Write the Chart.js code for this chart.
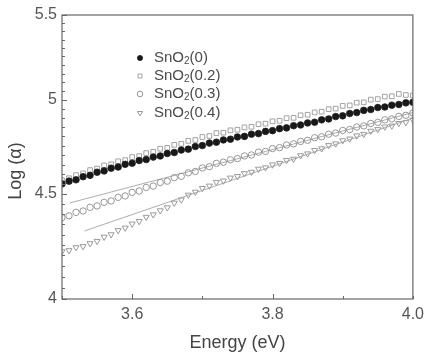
<!DOCTYPE html>
<html><head><meta charset="utf-8">
<script src="https://cdn.jsdelivr.net/npm/chart.js@4/dist/chart.umd.min.js"></script>
<style>html,body{margin:0;padding:0;background:#fff}</style>
</head><body>
<canvas id="c" width="430" height="357"></canvas>
<script>
// ---- data ----
const energy=[3.50,3.51,3.52,3.53,3.54,3.55,3.56,3.57,3.58,3.59,3.60,3.61,3.62,3.63,3.64,3.65,3.66,3.67,3.68,3.69,3.70,3.71,3.72,3.73,3.74,3.75,3.76,3.77,3.78,3.79,3.80,3.81,3.82,3.83,3.84,3.85,3.86,3.87,3.88,3.89,3.90,3.91,3.92,3.93,3.94,3.95,3.96,3.97,3.98,3.99,4.00];
const sno2_0=[4.551,4.565,4.572,4.588,4.595,4.611,4.618,4.632,4.638,4.652,4.658,4.672,4.677,4.690,4.696,4.709,4.714,4.727,4.732,4.746,4.751,4.764,4.769,4.781,4.785,4.797,4.800,4.812,4.815,4.827,4.831,4.842,4.846,4.858,4.862,4.873,4.877,4.890,4.895,4.908,4.912,4.925,4.930,4.942,4.947,4.958,4.961,4.971,4.975,4.984,4.987];
const sno2_02=[4.570,4.580,4.596,4.605,4.622,4.630,4.646,4.652,4.668,4.674,4.690,4.695,4.711,4.718,4.734,4.739,4.755,4.760,4.776,4.781,4.797,4.802,4.818,4.820,4.833,4.836,4.849,4.852,4.866,4.869,4.882,4.885,4.899,4.901,4.915,4.918,4.931,4.935,4.949,4.952,4.967,4.970,4.985,4.987,5.002,5.005,5.019,5.021,5.034,5.028,5.026];
const sno2_03=[4.382,4.391,4.408,4.415,4.433,4.440,4.458,4.465,4.483,4.490,4.508,4.515,4.533,4.540,4.558,4.565,4.583,4.590,4.608,4.615,4.633,4.640,4.657,4.663,4.676,4.682,4.696,4.701,4.716,4.720,4.735,4.740,4.754,4.760,4.773,4.779,4.793,4.798,4.812,4.818,4.832,4.837,4.851,4.857,4.870,4.876,4.890,4.895,4.909,4.915,4.928];
const sno2_04=[4.219,4.224,4.238,4.243,4.257,4.268,4.288,4.300,4.320,4.332,4.352,4.364,4.385,4.397,4.417,4.432,4.455,4.471,4.495,4.510,4.529,4.541,4.560,4.567,4.582,4.590,4.605,4.612,4.628,4.635,4.650,4.658,4.673,4.680,4.698,4.708,4.726,4.735,4.752,4.761,4.778,4.787,4.804,4.812,4.829,4.838,4.852,4.857,4.871,4.876,4.890];
const fitE_03=[3.511,4.00];
const fit_03=[4.455,4.930];
const fitE_04=[3.532,4.00];
const fit_04=[4.317,4.900];
const seriesLabels=['SnO₂(0)','SnO₂(0.2)','SnO₂(0.3)','SnO₂(0.4)'];
const legendSuffix=['(0)','(0.2)','(0.3)','(0.4)'];
const xTickValues=[3.5,3.6,3.7,3.8,3.9,4.0];
const xTickLabels=['','3.6','','3.8','','4.0'];
const xMajor=[3.6,3.8];
const yTickValues=[4,4.05,4.1,4.15,4.2,4.25,4.3,4.35,4.4,4.45,4.5,4.55,4.6,4.65,4.7,4.75,4.8,4.85,4.9,4.95,5,5.05,5.1,5.15,5.2,5.25,5.3,5.35,5.4,5.45,5.5];
const yMajor=[4,4.5,5,5.5];
const xTitle='Energy (eV)';
const yTitle='Log (α)';

const FONT="'Liberation Sans', Arial, Helvetica, sans-serif";
const pts=(xs,ys)=>xs.map((e,i)=>({x:e,y:ys[i]}));

const styles=[
 {pointStyle:'circle',radius:3.3,rotation:0,borderWidth:0.8,fill:'#181818',stroke:'#202020'},
 {pointStyle:'rect',radius:3.3,rotation:0,borderWidth:1,fill:'rgba(255,255,255,0)',stroke:'#a2a2a2'},
 {pointStyle:'circle',radius:3.2,rotation:0,borderWidth:1,fill:'rgba(255,255,255,0)',stroke:'#969696'},
 {pointStyle:'triangle',radius:3.5,rotation:180,borderWidth:1,fill:'rgba(255,255,255,0)',stroke:'#9a9a9a'}
];
const legendRadius=[2.6,2.8,2.8,3];
const seriesData=[sno2_0,sno2_02,sno2_03,sno2_04];
const datasets=seriesData.map((d,i)=>({
  label:seriesLabels[i], data:pts(energy,d),
  pointStyle:styles[i].pointStyle, pointRadius:styles[i].radius, pointRotation:styles[i].rotation,
  pointBorderWidth:styles[i].borderWidth, backgroundColor:styles[i].fill, borderColor:styles[i].stroke,
  showLine:false, order:i===0?0:i+1
}));
datasets.push({label:'fit03',type:'line',data:pts(fitE_03,fit_03),borderColor:'#8a8a8a',borderWidth:0.7,pointRadius:0,fill:false,order:10});
datasets.push({label:'fit04',type:'line',data:pts(fitE_04,fit_04),borderColor:'#8a8a8a',borderWidth:0.7,pointRadius:0,fill:false,order:10});

const decor={
  id:'decor',
  afterDraw(chart){
    const ctx=chart.ctx, a=chart.chartArea, xs=chart.scales.x, ys=chart.scales.y;
    ctx.save();
    ctx.strokeStyle='#666'; ctx.lineWidth=1.2;
    ctx.strokeRect(a.left,a.top,a.right-a.left,a.bottom-a.top);
    ctx.lineWidth=1;
    yTickValues.forEach(v=>{
      const py=Math.round(ys.getPixelForValue(v))+0.5;
      const len=yMajor.includes(v)?5:3;
      ctx.beginPath();ctx.moveTo(a.left,py);ctx.lineTo(a.left+len,py);ctx.stroke();
    });
    xTickValues.forEach(v=>{
      const px=Math.round(xs.getPixelForValue(v))+0.5;
      const len=xMajor.includes(v)?5:3;
      ctx.beginPath();ctx.moveTo(px,a.bottom);ctx.lineTo(px,a.bottom-len);ctx.stroke();
    });
    // legend
    const rowY=[58,76,94,113];
    styles.forEach((s,i)=>{
      ctx.save();
      ctx.fillStyle=s.fill; ctx.strokeStyle=s.stroke; ctx.lineWidth=s.borderWidth;
      Chart.helpers.drawPoint(ctx,{pointStyle:s.pointStyle,radius:legendRadius[i],rotation:s.rotation,borderWidth:s.borderWidth},140,rowY[i]);
      ctx.restore();
      ctx.fillStyle='#4a4a4a'; ctx.textBaseline='middle'; ctx.textAlign='left';
      let x=154;
      ctx.font='15px '+FONT; ctx.fillText('SnO',x,rowY[i]); x+=ctx.measureText('SnO').width;
      ctx.font='10px '+FONT; ctx.fillText('2',x,rowY[i]+3); x+=ctx.measureText('2').width;
      ctx.font='15px '+FONT; ctx.fillText(legendSuffix[i],x,rowY[i]);
    });
    // axis titles
    ctx.fillStyle='#444'; ctx.font='18px '+FONT; ctx.textAlign='center'; ctx.textBaseline='middle';
    ctx.fillText(xTitle,(a.left+a.right)/2,343);
    ctx.translate(16,171); ctx.rotate(-Math.PI/2); ctx.fillText(yTitle,0,0);
    ctx.restore();
  }
};

new Chart(document.getElementById('c'),{
  type:'scatter',
  data:{datasets},
  options:{
    responsive:false, animation:false, devicePixelRatio:1,
    layout:{padding:{top:15,right:11,left:0,bottom:0}},
    plugins:{legend:{display:false},tooltip:{enabled:false}},
    scales:{
      x:{type:'linear',min:3.5,max:4.0,
        afterBuildTicks:s=>{s.ticks=xTickValues.map(v=>({value:v}));},
        ticks:{callback:(v,i)=>xTickLabels[i],autoSkip:false,maxRotation:0,padding:6,color:'#555',font:{size:16,family:FONT}},
        grid:{display:false,drawTicks:false},border:{display:false},
        afterFit:s=>{s.height=58;}
      },
      y:{type:'logarithmic',min:4,max:5.5,
        afterBuildTicks:s=>{s.ticks=yTickValues.map(v=>({value:v}));},
        ticks:{callback:(v)=>yMajor.includes(v)?String(v):'',autoSkip:false,padding:5,color:'#555',font:{size:16,family:FONT}},
        grid:{display:false,drawTicks:false},border:{display:false},
        afterFit:s=>{s.width=62;}
      }
    }
  },
  plugins:[decor]
});
</script>
</body></html>
